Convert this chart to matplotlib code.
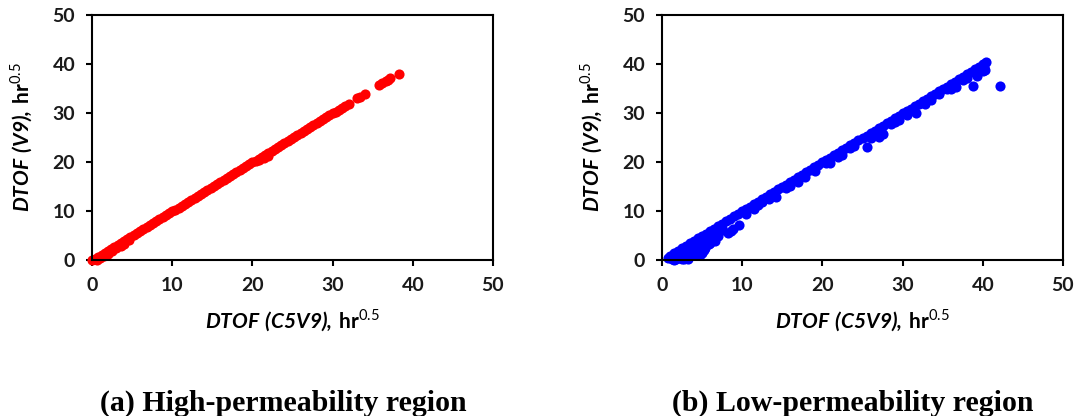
import matplotlib.pyplot as plt

plt.rcParams['font.family'] = ['Lato', 'DejaVu Sans']
plt.rcParams['mathtext.fontset'] = 'custom'
plt.rcParams['mathtext.rm'] = 'Lato'
plt.rcParams['mathtext.bf'] = 'Lato:bold'
plt.rcParams['mathtext.bfit'] = 'Lato:bold:italic'

# high-permeability region: DTOF from C5V9 vs V9
high_x = [0.0, 0.4, 0.8, 1.2, 1.6, 2.0, 2.4, 2.8, 3.2, 3.6, 4.0, 4.4, 4.8, 5.2, 5.6, 6.0,
          6.4, 6.8, 7.2, 7.6, 8.0, 8.4, 8.8, 9.2, 9.6, 10.0, 10.4, 10.8, 11.2, 11.6, 12.0,
          12.4, 12.8, 13.2, 13.6, 14.0, 14.4, 14.8, 15.2, 15.6, 16.0, 16.4, 16.8, 17.2,
          17.6, 18.0, 18.4, 18.8, 19.2, 19.6, 20.0, 20.4, 20.8, 21.2, 21.6, 22.0, 22.4,
          22.8, 23.2, 23.6, 24.0, 24.4, 24.8, 25.2, 25.6, 26.0, 26.4, 26.8, 27.2, 27.6,
          28.0, 28.4, 28.8, 29.2, 29.6, 30.0, 30.4, 30.8, 31.2, 31.6, 32.0,
          0.6, 1.0, 1.5, 2.0, 2.5, 3.0, 3.6, 4.0, 4.6, 20.8, 21.4, 21.9,
          33.0, 33.4, 34.0, 35.8, 36.2, 36.6, 36.9, 37.2, 38.3]
high_y = [0.0, 0.3, 0.7, 1.1, 1.5, 1.9, 2.3, 2.7, 3.1, 3.5, 3.9, 4.3, 4.7, 5.1, 5.5, 5.9,
          6.3, 6.7, 7.1, 7.5, 7.9, 8.3, 8.7, 9.1, 9.5, 9.9, 10.3, 10.7, 11.1, 11.5, 11.9,
          12.3, 12.7, 13.1, 13.5, 13.9, 14.3, 14.7, 15.1, 15.5, 15.9, 16.3, 16.7, 17.1,
          17.5, 17.9, 18.3, 18.7, 19.1, 19.5, 19.9, 20.3, 20.7, 21.1, 21.5, 21.9, 22.3,
          22.7, 23.1, 23.5, 23.9, 24.3, 24.7, 25.1, 25.5, 25.9, 26.3, 26.7, 27.1, 27.5,
          27.9, 28.3, 28.7, 29.1, 29.5, 29.9, 30.3, 30.7, 31.1, 31.5, 31.9,
          0.1, 0.4, 0.8, 1.3, 1.8, 2.4, 2.9, 3.3, 4.0, 20.4, 20.9, 21.3,
          33.0, 33.3, 33.9, 35.8, 36.1, 36.5, 36.8, 37.1, 38.0]

# low-permeability region
low_x = [1.0, 1.5, 2.0, 2.5, 3.0, 3.5, 4.0, 4.5, 5.0, 5.5, 6.0, 6.5, 7.0, 7.5, 8.0, 8.5,
         9.0, 9.5, 10.0, 10.5, 11.0, 11.5, 12.0, 12.5, 13.0, 13.5, 14.0, 14.5, 15.0, 15.5,
         16.0, 16.5, 17.0, 17.5, 18.0, 18.5, 19.0, 19.5, 20.0, 20.5, 21.0, 21.5, 22.0,
         22.5, 23.0, 23.5, 24.0, 24.5, 25.0, 25.5, 26.0, 26.5, 27.0, 27.5, 28.0, 28.5,
         29.0, 29.5, 30.0, 30.5, 31.0, 31.5, 32.0, 32.5, 33.0, 33.5, 34.0, 34.5, 35.0,
         35.5, 36.0, 36.5, 37.0, 37.5, 38.0, 38.5, 39.0, 39.5, 40.0,
         0.8, 1.2, 1.5, 1.8, 2.0, 2.2, 2.5, 2.8, 3.0, 3.2, 3.5, 3.8, 4.0, 4.3, 4.5, 4.7,
         4.8, 5.0, 5.3, 5.5, 5.8, 6.0, 6.6, 6.8, 7.0, 7.5, 8.2, 8.6, 8.9, 9.6, 10.5, 11.5,
         12.5, 13.4, 14.2, 15.5, 17.0, 17.8, 19.1, 20.5, 21.0, 22.0, 22.5, 23.5, 25.5,
         26.0, 27.0, 27.6, 28.5, 29.5, 30.5, 31.7, 32.8, 34.5, 35.5, 36.6, 37.5, 38.8,
         39.3, 39.5, 40.0, 40.3, 40.4, 40.2, 42.1,
         1.5, 2.5, 2.8, 3.0, 3.3, 3.5, 3.7, 4.0, 4.2, 4.5, 5.0, 5.2, 5.5, 6.0, 6.5, 7.2,
         12.0, 16.0, 24.0, 29.0, 33.5, 36.0, 38.0, 39.5]
low_y = [0.9, 1.4, 1.9, 2.4, 2.9, 3.4, 3.9, 4.4, 4.9, 5.4, 5.9, 6.4, 6.9, 7.4, 7.9, 8.4,
         8.9, 9.4, 9.9, 10.4, 10.9, 11.4, 11.9, 12.4, 12.9, 13.4, 13.9, 14.4, 14.9, 15.4,
         15.9, 16.4, 16.9, 17.4, 17.9, 18.4, 18.9, 19.4, 19.9, 20.4, 20.9, 21.4, 21.9,
         22.4, 22.9, 23.4, 23.9, 24.4, 24.9, 25.4, 25.9, 26.4, 26.9, 27.4, 27.9, 28.4,
         28.9, 29.4, 29.9, 30.4, 30.9, 31.4, 31.9, 32.4, 32.9, 33.4, 33.9, 34.4, 34.9,
         35.4, 35.9, 36.4, 36.9, 37.4, 37.9, 38.4, 38.9, 39.4, 39.9,
         0.5, 0.2, 0.8, 0.3, 1.0, 0.4, 1.5, 0.9, 2.0, 1.2, 2.5, 1.6, 3.0, 2.0, 3.2, 1.0,
         2.6, 3.8, 2.5, 4.2, 3.2, 4.8, 3.8, 5.5, 5.0, 6.5, 5.5, 6.0, 6.3, 7.2, 9.3, 10.5,
         11.8, 12.5, 12.8, 14.6, 16.0, 17.0, 18.2, 19.8, 19.8, 21.0, 21.5, 22.8, 23.0,
         25.0, 25.2, 25.7, 27.8, 28.6, 29.5, 30.0, 31.8, 33.8, 34.8, 35.3, 36.8, 35.5,
         37.5, 38.8, 38.5, 38.7, 40.5, 39.3, 35.5,
         0.1, 0.2, 0.2, 0.8, 0.3, 1.2, 2.8, 2.0, 1.0, 2.5, 1.5, 2.0, 3.0, 3.5, 5.0, 6.0,
         11.3, 15.2, 23.2, 28.2, 32.6, 35.0, 37.2, 38.5]

ticks = [0, 10, 20, 30, 40, 50]
ylabel = r'$\mathbfit{DTOF\ (V9){,}\ }\mathbf{hr}^{\mathrm{0.5}}$'
xlabel = r'$\mathbfit{DTOF\ (C5V9){,}\ }\mathbf{hr}^{\mathrm{0.5}}$'
captions = ['(a) High-permeability region', '(b) Low-permeability region']

fig = plt.figure(figsize=(10.78, 4.16), dpi=100)
ax1 = fig.add_axes([92 / 1078, 1 - 260 / 416, 401 / 1078, 245 / 416])
ax2 = fig.add_axes([662 / 1078, 1 - 260 / 416, 401 / 1078, 245 / 416])

for ax, xs, ys, c in [(ax1, high_x, high_y, '#ff0000'), (ax2, low_x, low_y, '#0000ff')]:
    ax.plot(xs, ys, 'o', color=c, markersize=7.3, markeredgewidth=0, clip_on=False)
    ax.set_xlim(0, 50)
    ax.set_ylim(0, 50)
    ax.set_xticks(ticks)
    ax.set_yticks(ticks)
    for s in ax.spines.values():
        s.set_linewidth(1.5)
    ax.tick_params(direction='out', length=4, width=1.5, labelsize=14, pad=8,
                   colors='black', labelcolor='#1a1a1a')
    for lab in ax.get_xticklabels() + ax.get_yticklabels():
        lab.set_fontweight('bold')
    ax.set_xlabel(xlabel, fontsize=15, labelpad=10)
    ax.set_ylabel(ylabel, fontsize=15, labelpad=13)

fig.text(283 / 1078, 1 - 403 / 416, captions[0], ha='center', va='center',
         fontsize=21.5, fontweight='bold', family='Liberation Serif')
fig.text(853 / 1078, 1 - 403 / 416, captions[1], ha='center', va='center',
         fontsize=21.5, fontweight='bold', family='Liberation Serif')

fig.savefig('out.png', dpi=100)
